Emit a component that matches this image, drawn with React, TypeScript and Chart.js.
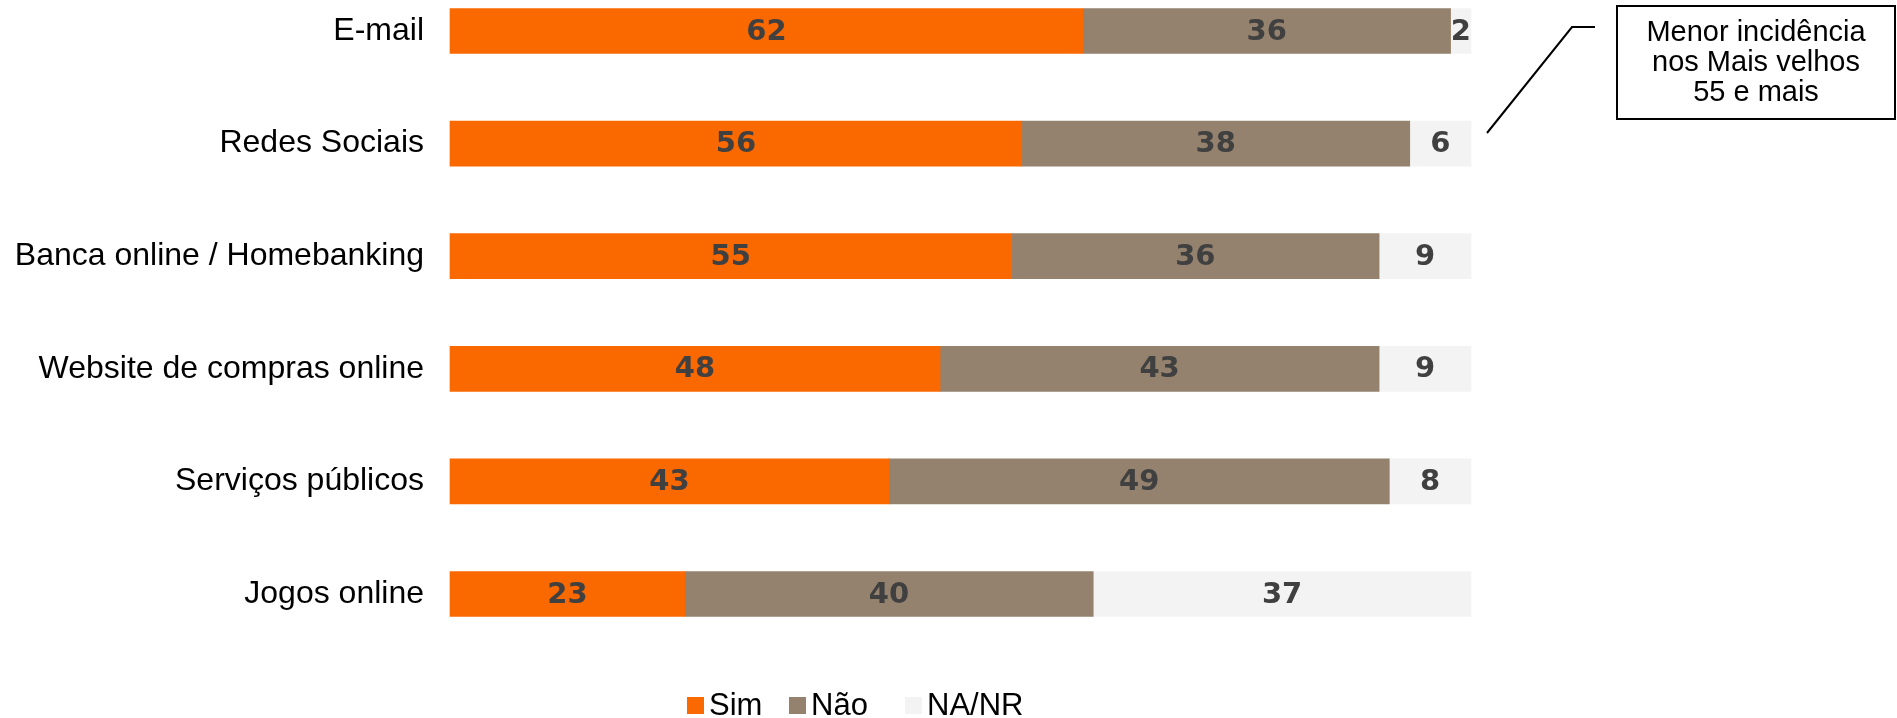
import React, { useEffect, useRef } from "react";
import { Chart, registerables } from "chart.js";

Chart.register(...registerables);

const categories = [
  "E-mail",
  "Redes Sociais",
  "Banca online / Homebanking",
  "Website de compras online",
  "Serviços públicos",
  "Jogos online",
];
const seriesNames = ["Sim", "Não", "NA/NR"];
const simValues = [62, 56, 55, 48, 43, 23];
const naoValues = [36, 38, 36, 43, 49, 40];
const nanrValues = [2, 6, 9, 9, 8, 37];
const calloutLines = ["Menor incidência", "nos Mais velhos", "55 e mais"];

const COLORS = ["#FA6800", "#94826E", "#F2F3F2"];
const SANS = "'Liberation Sans', Arial, sans-serif";
const LABEL_FONT = "bold 29px 'DejaVu Sans', Verdana, sans-serif";

const valueLabelsPlugin = {
  id: "valueLabels",
  afterDatasetsDraw(chart: any) {
    const ctx = chart.ctx;
    ctx.save();
    ctx.font = LABEL_FONT;
    ctx.fillStyle = "#404040";
    ctx.textAlign = "center";
    ctx.textBaseline = "middle";
    chart.data.datasets.forEach((ds: any, di: number) => {
      const meta = chart.getDatasetMeta(di);
      meta.data.forEach((el: any, i: number) => {
        const v = ds.data[i];
        const cx = (el.x + el.base) / 2;
        ctx.fillText(String(v), cx, el.y + 1);
      });
    });
    ctx.restore();
  },
};

const customLegendPlugin = {
  id: "customLegend",
  afterDraw(chart: any) {
    const ctx = chart.ctx;
    const boxX = [687, 789, 905];
    const boxY = 697;
    const size = 17;
    ctx.save();
    ctx.font = `31px ${SANS}`;
    ctx.textBaseline = "middle";
    ctx.textAlign = "left";
    chart.data.datasets.forEach((ds: any, i: number) => {
      ctx.fillStyle = ds.backgroundColor;
      ctx.fillRect(boxX[i], boxY, size, size);
      ctx.fillStyle = "#000";
      ctx.fillText(ds.label, boxX[i] + 22, boxY + size / 2 + 1);
    });
    ctx.restore();
  },
};

const calloutPlugin = {
  id: "callout",
  afterDraw(chart: any) {
    const ctx = chart.ctx;
    ctx.save();
    ctx.strokeStyle = "#000";
    ctx.lineWidth = 2;
    ctx.beginPath();
    ctx.moveTo(1487, 133);
    ctx.lineTo(1572, 27);
    ctx.lineTo(1595, 27);
    ctx.stroke();
    ctx.strokeRect(1617, 6, 278, 113);
    ctx.fillStyle = "#000";
    ctx.font = `29px ${SANS}`;
    ctx.textAlign = "center";
    ctx.textBaseline = "middle";
    calloutLines.forEach((t, i) => {
      ctx.fillText(t, 1756, 33 + i * 30);
    });
    ctx.restore();
  },
};

export default function App() {
  const canvasRef = useRef<HTMLCanvasElement | null>(null);

  useEffect(() => {
    const canvas = canvasRef.current;
    if (!canvas) return;
    const values = [simValues, naoValues, nanrValues];
    const chart = new Chart(canvas, {
      type: "bar",
      data: {
        labels: categories,
        datasets: seriesNames.map((name, i) => ({
          label: name,
          data: values[i],
          backgroundColor: COLORS[i],
          borderWidth: 0,
          barThickness: 45,
          clip: false as any,
        })),
      },
      options: {
        indexAxis: "y",
        responsive: false,
        animation: false,
        devicePixelRatio: 1,
        layout: { padding: { top: 31, bottom: 124, left: 0, right: 426 } },
        plugins: {
          legend: { display: false },
          tooltip: { enabled: false },
        },
        scales: {
          x: {
            type: "linear",
            min: 0,
            max: 100,
            stacked: true,
            display: false,
          },
          y: {
            type: "category",
            stacked: true,
            offset: false,
            grid: { display: false, drawTicks: false },
            border: { display: false },
            ticks: {
              color: "#000",
              padding: 26,
              font: { family: SANS, size: 32 },
            },
            afterFit: (scale: any) => {
              scale.width = 450;
              scale.paddingTop = 0;
              scale.paddingBottom = 0;
            },
          },
        },
      },
      plugins: [valueLabelsPlugin, customLegendPlugin, calloutPlugin],
    } as any);
    return () => chart.destroy();
  }, []);

  return (
    <div
      style={{
        position: "absolute",
        left: 0,
        top: 0,
        width: 1897,
        height: 718,
        background: "#fff",
      }}
    >
      <canvas
        ref={canvasRef}
        width={1897}
        height={718}
        style={{ display: "block", width: 1897, height: 718 }}
      />
    </div>
  );
}
